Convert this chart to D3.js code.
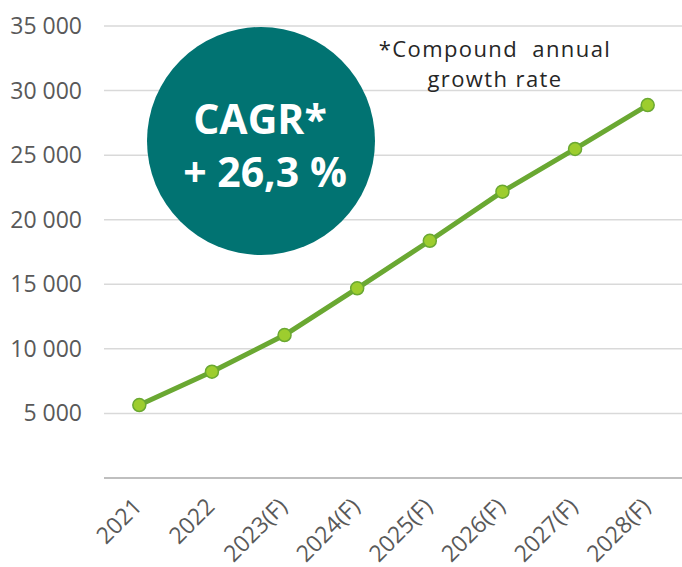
<!DOCTYPE html>
<html>
<head>
<meta charset="utf-8">
<script src="https://cdn.jsdelivr.net/npm/d3@7"></script>
<style>
  body { margin: 0; background: #fff; }
  svg { display: block; font-family: "Open Sans", sans-serif; }
</style>
</head>
<body>
<div id="chart"></div>
<script>
const years = ["2021", "2022", "2023(F)", "2024(F)", "2025(F)", "2026(F)", "2027(F)", "2028(F)"];
const values = [5650, 8230, 11070, 14690, 18370, 22170, 25480, 28880];
const yTicks = [0, 5000, 10000, 15000, 20000, 25000, 30000, 35000];
const noteLines = ["*Compound  annual", "growth rate"];
const badgeLines = ["CAGR*", "+ 26,3 %"];

const width = 682, height = 567;
const svg = d3.select("#chart").append("svg")
  .attr("width", width)
  .attr("height", height);

const x = d3.scaleBand().domain(years).range([103, 684]);
const y = d3.scaleLinear().domain([0, 35000]).range([478, 26]);

// gridlines
svg.append("g")
  .selectAll("line")
  .data(yTicks.filter(d => d > 0))
  .join("line")
  .attr("x1", 104).attr("x2", width)
  .attr("y1", d => y(d)).attr("y2", d => y(d))
  .attr("stroke", "#d9d9d9").attr("stroke-width", 1.5);

// baseline
svg.append("line")
  .attr("x1", 104).attr("x2", width)
  .attr("y1", y(0)).attr("y2", y(0))
  .attr("stroke", "#bfbfbf").attr("stroke-width", 2);

// y labels
const fmt = d => d3.format(",")(d).replace(",", " ");
svg.append("g")
  .selectAll("text")
  .data(yTicks.filter(d => d > 0))
  .join("text")
  .attr("x", 82)
  .attr("y", d => y(d) + 8)
  .attr("text-anchor", "end")
  .attr("font-size", 23)
  .attr("fill", "#595959")
  .text(fmt);

// x labels
svg.append("g")
  .selectAll("text")
  .data(years)
  .join("text")
  .attr("text-anchor", "end")
  .attr("font-size", 23)
  .attr("fill", "#595959")
  .attr("transform", d => `translate(${x(d) + x.bandwidth() / 2 + 4},${508}) rotate(-45)`)
  .text(d => d);

// circle badge
svg.append("circle")
  .attr("cx", 261).attr("cy", 141).attr("r", 114)
  .attr("fill", "#017372");

const badge = svg.append("text")
  .attr("text-anchor", "middle")
  .attr("font-size", 41)
  .attr("font-weight", "bold")
  .attr("fill", "#fff");
badge.selectAll("tspan")
  .data(badgeLines)
  .join("tspan")
  .attr("x", (d, i) => i === 0 ? 260 : 265)
  .attr("y", (d, i) => 134 + i * 53)
  .text(d => d);

// note (one text block, two lines)
const note = svg.append("text")
  .attr("text-anchor", "middle")
  .attr("font-size", 22)
  .attr("letter-spacing", 1.4)
  .attr("fill", "#262626")
  .attr("xml:space", "preserve")
  .style("white-space", "pre");
note.selectAll("tspan")
  .data(noteLines)
  .join("tspan")
  .attr("x", 495)
  .attr("y", (d, i) => 57 + i * 30)
  .text(d => d);

// line
const line = d3.line()
  .x((d, i) => x(years[i]) + x.bandwidth() / 2)
  .y(d => y(d));

svg.append("path")
  .datum(values)
  .attr("d", line)
  .attr("fill", "none")
  .attr("stroke", "#6aa832")
  .attr("stroke-width", 5)
  .attr("stroke-linejoin", "round");

svg.append("g")
  .selectAll("circle")
  .data(values)
  .join("circle")
  .attr("cx", (d, i) => x(years[i]) + x.bandwidth() / 2)
  .attr("cy", d => y(d))
  .attr("r", 6.5)
  .attr("fill", "#9dcd2e")
  .attr("stroke", "#6aa832")
  .attr("stroke-width", 1.5);
</script>
</body>
</html>
